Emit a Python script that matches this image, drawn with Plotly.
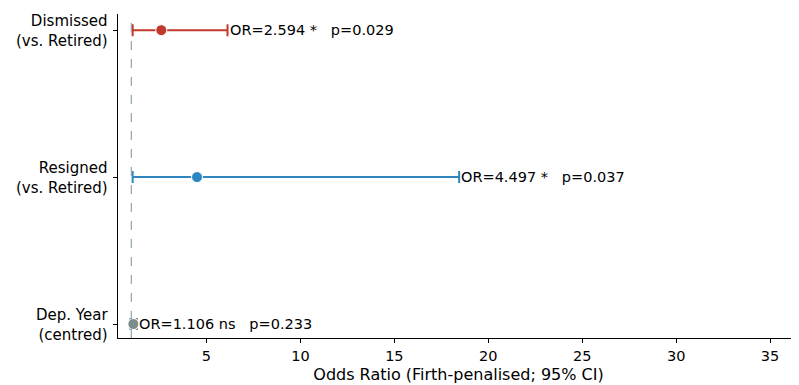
import plotly.graph_objects as go

label_top = ["Dep. Year", "Resigned", "Dismissed"]
label_bottom = ["(centred)", "(vs. Retired)", "(vs. Retired)"]
or_vals = [1.106, 4.497, 2.594]
ci_low = [0.95, 1.07, 1.07]
ci_high = [1.29, 18.45, 6.12]
sig = ["ns", "*", "*"]
pvals = [0.233, 0.037, 0.029]
colors = ["#7f8c8d", "#2e86c1", "#c0392b"]
ypos = [0, 1, 2]
xticks = [5, 10, 15, 20, 25, 30, 35]

fig = go.Figure()
fig.add_vline(x=1, line=dict(color="#95a5a6", width=1.2, dash="dash"))

for i in range(len(ypos)):
    fig.add_trace(go.Scatter(
        x=[or_vals[i]], y=[ypos[i]], mode="markers",
        marker=dict(size=11, color=colors[i], line=dict(color="white", width=1)),
        error_x=dict(type="data", symmetric=False,
                     array=[ci_high[i] - or_vals[i]],
                     arrayminus=[or_vals[i] - ci_low[i]],
                     color=colors[i], thickness=2, width=6),
        showlegend=False,
    ))
    fig.add_annotation(x=ci_high[i], y=ypos[i], xanchor="left", yanchor="middle",
                       xshift=0, showarrow=False,
                       text=f"OR={or_vals[i]:.3f} {sig[i]}   p={pvals[i]:.3f}",
                       font=dict(size=14.5, color="black"))
    fig.add_annotation(x=0, xref="paper", y=ypos[i], yref="y",
                       xanchor="right", yanchor="middle", xshift=-8, yshift=-1,
                       showarrow=False, align="right",
                       text=f"{label_top[i]}<br>{label_bottom[i]}",
                       font=dict(size=15, color="black"))

fig.update_layout(
    width=799, height=385,
    margin=dict(l=110, r=8, t=6, b=55),
    plot_bgcolor="white", paper_bgcolor="white",
    font=dict(family="DejaVu Sans", size=14.5, color="black"),
    xaxis=dict(range=[0.29, 36.54], tickvals=xticks,
               showline=True, linecolor="black", linewidth=1.2, ticks="outside",
               ticklen=4, tickcolor="black", showgrid=False, zeroline=False,
               automargin=False,
               title=dict(text="Odds Ratio (Firth-penalised; 95% CI)", standoff=6,
                          font=dict(size=16))),
    yaxis=dict(range=[-0.095, 2.11], tickvals=ypos, ticktext=["", "", ""],
               showline=True, linecolor="black", linewidth=1.2, ticks="outside",
               ticklen=4, tickcolor="black", showgrid=False, zeroline=False,
               automargin=False),
)
fig.write_html("out.html")
